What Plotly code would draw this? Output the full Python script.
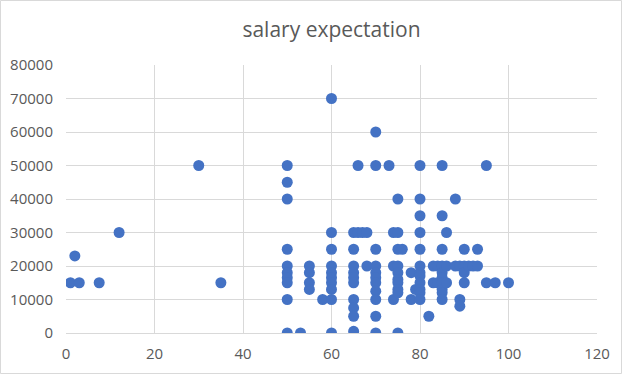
import plotly.graph_objects as go

# ---- data ----
x_vals = [
    1, 2, 3, 7.5, 12, 30, 35,
    50, 50, 50, 50, 50, 50, 50, 50, 50, 50,
    53,
    55, 55, 55, 55,
    58,
    60, 60, 60, 60, 60, 60, 60, 60, 60, 60,
    65, 65, 65, 65, 65, 65, 65, 65, 65, 65,
    66, 66,
    67,
    68, 68,
    70, 70, 70, 70, 70, 70, 70, 70, 70, 70, 70,
    73,
    74, 74, 74,
    75, 75, 75, 75, 75, 75, 75, 75, 75, 75,
    76,
    78, 78, 79,
    80, 80, 80, 80, 80, 80, 80, 80, 80, 80, 80, 80,
    82,
    83, 83,
    84, 84,
    85, 85, 85, 85, 85, 85, 85, 85, 85, 85,
    86, 86, 86,
    88, 88,
    89, 89, 89,
    90, 90, 90, 90,
    91, 92,
    93, 93,
    95, 95,
    97,
    100,
]
salary = [
    15000, 23000, 15000, 15000, 30000, 50000, 15000,
    50000, 45000, 40000, 25000, 20000, 18000, 16500, 15000, 10000, 0,
    0,
    20000, 18000, 15000, 13000,
    10000,
    70000, 30000, 25000, 20000, 18000, 16500, 15000, 13000, 10000, 0,
    30000, 25000, 20000, 18000, 16500, 15000, 10000, 7500, 5000, 500,
    50000, 30000,
    30000,
    30000, 20000,
    60000, 50000, 25000, 20000, 18000, 16500, 15000, 12500, 10000, 5000, 0,
    50000,
    30000, 20000, 10000,
    40000, 30000, 25000, 20000, 18000, 16000, 15000, 13000, 12000, 0,
    25000,
    18000, 10000, 13000,
    50000, 40000, 35000, 30000, 25000, 20000, 18000, 17000, 15000, 13000, 12000, 10000,
    5000,
    20000, 15000,
    20000, 15000,
    50000, 35000, 25000, 20000, 18000, 16500, 15000, 13000, 12000, 10000,
    30000, 20000, 15000,
    40000, 20000,
    20000, 10000, 8000,
    25000, 20000, 18000, 15000,
    20000, 20000,
    25000, 20000,
    50000, 15000,
    15000,
    15000,
]
x_ticks = [0, 20, 40, 60, 80, 100, 120]
y_ticks = [0, 10000, 20000, 30000, 40000, 50000, 60000, 70000, 80000]
title_text = "salary expectation"

# ---- figure ----
W, H = 622, 374
ml, mr, mt, mb = 66, 25, 65, 41
pw, ph = W - ml - mr, H - mt - mb

fig = go.Figure(go.Scatter(
    x=x_vals, y=salary, mode="markers",
    marker=dict(color="#4472C4", size=11, line=dict(width=0)),
    hoverinfo="x+y",
))

grid = "#D9D9D9"
tick_font = dict(family="Open Sans, sans-serif", size=15, color="#595959")

fig.update_layout(
    width=W, height=H,
    margin=dict(l=ml, r=mr, t=mt, b=mb, autoexpand=False),
    paper_bgcolor="white", plot_bgcolor="white",
    showlegend=False,
    title=dict(text=title_text, x=0.5, xref="paper", xanchor="center",
               y=1 - 30 / H, yref="container", yanchor="middle",
               font=dict(family="Open Sans, sans-serif", size=21, color="#595959")),
    xaxis=dict(range=[0, 120], tickvals=x_ticks, ticktext=[str(v) for v in x_ticks],
               showgrid=True, gridcolor=grid, gridwidth=1, zeroline=False,
               showline=True, linecolor=grid, linewidth=1,
               ticks="", tickfont=tick_font, ticklabelstandoff=7,
               fixedrange=True),
    yaxis=dict(range=[0, 80000], tickvals=y_ticks, ticktext=[str(v) for v in y_ticks],
               showgrid=True, gridcolor=grid, gridwidth=1, zeroline=False,
               showline=False, ticks="", tickfont=tick_font, ticklabelstandoff=12,
               fixedrange=True),
    shapes=[dict(type="rect", xref="paper", yref="paper",
                 x0=(0.5 - ml) / pw, x1=(W - 0.5 - ml) / pw,
                 y0=-(mb - 0.5) / ph, y1=1 + (mt - 0.5) / ph,
                 line=dict(color="#D9D9D9", width=1), fillcolor="rgba(0,0,0,0)",
                 layer="below")],
)

fig.write_html("out.html", config={"displayModeBar": False},
               post_script="document.body.style.margin='0';")
